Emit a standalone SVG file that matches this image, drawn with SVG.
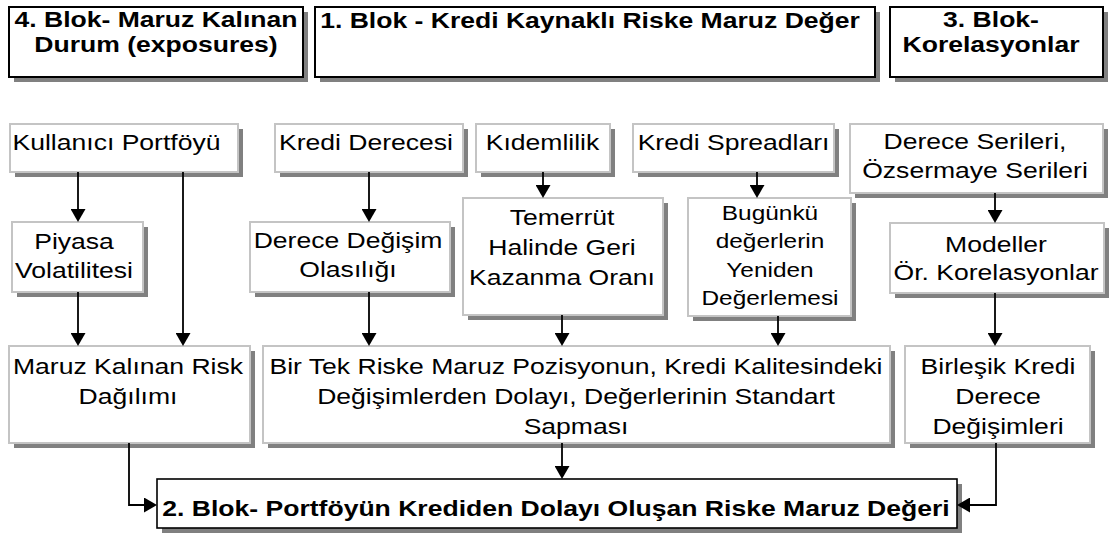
<svg xmlns="http://www.w3.org/2000/svg" width="1109" height="537" viewBox="0 0 1109 537">
  <defs>
    <marker id="arrow" viewBox="0 0 13 15" refX="3" refY="7.5" markerWidth="13" markerHeight="15" markerUnits="userSpaceOnUse" orient="auto">
      <path d="M0,0 L13,7.5 L0,15 z" fill="#000"/>
    </marker>
  </defs>
  <style>
    .sh{fill:#808080}
    .box{fill:#fff;stroke:#c4c4c4;stroke-width:2}
    .hdr{fill:#fff;stroke:#000;stroke-width:2}
    .res{fill:#fff;stroke:#000;stroke-width:1.6}
    .t{font-family:"Liberation Sans",Arial,sans-serif;font-size:22.5px;fill:#000;text-anchor:middle}
    .b{font-weight:bold}
    .s{font-size:20.7px}
    .ln{stroke:#000;stroke-width:1.8;fill:none;marker-end:url(#arrow)}
  </style>
  <rect width="1109" height="537" fill="#fff"/>

  <!-- block headers -->
  <g id="blok4">
    <rect class="sh" x="14" y="12" width="294" height="70"/>
    <rect class="hdr" x="9" y="7" width="294" height="70"/>
    <text class="t b" transform="translate(156 26.5) scale(1.18 1)"><tspan x="0" y="0">4. Blok- Maruz Kalınan</tspan><tspan x="0" y="25.5">Durum (exposures)</tspan></text>
  </g>
  <g id="blok1">
    <rect class="sh" x="320" y="12" width="560" height="70"/>
    <rect class="hdr" x="315" y="7" width="560" height="70"/>
    <text class="t b" transform="translate(590 27.5) scale(1.18 1)">1. Blok - Kredi Kaynaklı Riske Maruz Değer</text>
  </g>
  <g id="blok3">
    <rect class="sh" x="895" y="12" width="213" height="70"/>
    <rect class="hdr" x="890" y="7" width="213" height="70"/>
    <text class="t b" transform="translate(991 26.5) scale(1.18 1)"><tspan x="0" y="0">3. Blok-</tspan><tspan x="0" y="25.5">Korelasyonlar</tspan></text>
  </g>

  <!-- inputs -->
  <g id="kullanici-portfoyu">
    <rect class="sh" x="15" y="129" width="228" height="48"/>
    <rect class="box" x="10" y="124" width="228" height="48"/>
    <text class="t" transform="translate(116.5 150) scale(1.18 1)">Kullanıcı Portföyü</text>
  </g>
  <g id="kredi-derecesi">
    <rect class="sh" x="280" y="129" width="188" height="48"/>
    <rect class="box" x="275" y="124" width="188" height="48"/>
    <text class="t" transform="translate(366 150) scale(1.18 1)">Kredi Derecesi</text>
  </g>
  <g id="kidemlilik">
    <rect class="sh" x="481" y="129" width="134" height="48"/>
    <rect class="box" x="476" y="124" width="134" height="48"/>
    <text class="t" transform="translate(542.5 150) scale(1.18 1)">Kıdemlilik</text>
  </g>
  <g id="kredi-spreadlari">
    <rect class="sh" x="638" y="129" width="201" height="48"/>
    <rect class="box" x="633" y="124" width="201" height="48"/>
    <text class="t" transform="translate(733.5 150) scale(1.18 1)">Kredi Spreadları</text>
  </g>
  <g id="derece-serileri">
    <rect class="sh" x="855" y="129" width="253" height="69"/>
    <rect class="box" x="850" y="124" width="253" height="69"/>
    <text class="t" transform="translate(975 149) scale(1.18 1)"><tspan x="0" y="0">Derece Serileri,</tspan><tspan x="0" y="29">Özsermaye Serileri</tspan></text>
  </g>

  <!-- intermediate steps -->
  <g id="piyasa-volatilitesi">
    <rect class="sh" x="17" y="227" width="131" height="70"/>
    <rect class="box" x="12" y="222" width="131" height="70"/>
    <text class="t" transform="translate(74 249) scale(1.18 1)"><tspan x="0" y="0">Piyasa</tspan><tspan x="0" y="29">Volatilitesi</tspan></text>
  </g>
  <g id="derece-degisim">
    <rect class="sh" x="255" y="227" width="200" height="70"/>
    <rect class="box" x="250" y="222" width="200" height="70"/>
    <text class="t" transform="translate(348 248) scale(1.18 1)"><tspan x="0" y="0">Derece Değişim</tspan><tspan x="0" y="29">Olasılığı</tspan></text>
  </g>
  <g id="temerrut">
    <rect class="sh" x="468" y="203" width="200" height="117"/>
    <rect class="box" x="463" y="198" width="200" height="117"/>
    <text class="t" transform="translate(562 225) scale(1.18 1)"><tspan x="0" y="0">Temerrüt</tspan><tspan x="0" y="30">Halinde Geri</tspan><tspan x="0" y="60">Kazanma Oranı</tspan></text>
  </g>
  <g id="yeniden-degerleme">
    <rect class="sh" x="693" y="203" width="163" height="118"/>
    <rect class="box" x="688" y="198" width="163" height="118"/>
    <text class="t s" transform="translate(770 220) scale(1.18 1)"><tspan x="0" y="0">Bugünkü</tspan><tspan x="0" y="28.5">değerlerin</tspan><tspan x="0" y="57">Yeniden</tspan><tspan x="0" y="85.5">Değerlemesi</tspan></text>
  </g>
  <g id="modeller">
    <rect class="sh" x="895" y="228" width="214" height="70"/>
    <rect class="box" x="890" y="223" width="214" height="70"/>
    <text class="t" transform="translate(996 252) scale(1.18 1)"><tspan x="0" y="0">Modeller</tspan><tspan x="0" y="28">Ör. Korelasyonlar</tspan></text>
  </g>

  <!-- aggregated results -->
  <g id="risk-dagilimi">
    <rect class="sh" x="14" y="351" width="241" height="97"/>
    <rect class="box" x="9" y="346" width="241" height="97"/>
    <text class="t" transform="translate(128 374) scale(1.18 1)"><tspan x="0" y="0">Maruz Kalınan Risk</tspan><tspan x="0" y="30">Dağılımı</tspan></text>
  </g>
  <g id="standart-sapma">
    <rect class="sh" x="268" y="351" width="627" height="97"/>
    <rect class="box" x="263" y="346" width="627" height="97"/>
    <text class="t" transform="translate(576 374) scale(1.18 1)"><tspan x="0" y="0">Bir Tek Riske Maruz Pozisyonun, Kredi Kalitesindeki</tspan><tspan x="0" y="30">Değişimlerden Dolayı, Değerlerinin Standart</tspan><tspan x="0" y="60">Sapması</tspan></text>
  </g>
  <g id="birlesik-kredi">
    <rect class="sh" x="910" y="351" width="185" height="97"/>
    <rect class="box" x="905" y="346" width="185" height="97"/>
    <text class="t" transform="translate(998 374) scale(1.18 1)"><tspan x="0" y="0">Birleşik Kredi</tspan><tspan x="0" y="30">Derece</tspan><tspan x="0" y="60">Değişimleri</tspan></text>
  </g>

  <!-- final output -->
  <g id="blok2">
    <rect class="sh" x="162" y="484" width="800" height="49"/>
    <rect class="res" x="157" y="479" width="800" height="49"/>
    <text class="t b" transform="translate(556 516) scale(1.18 1)">2. Blok- Portföyün Krediden Dolayı Oluşan Riske Maruz Değeri</text>
  </g>

  <!-- connectors -->
  <g id="connectors">
    <path class="ln" d="M78 172 V212"/>
    <path class="ln" d="M183 172 V336"/>
    <path class="ln" d="M78 292 V336"/>
    <path class="ln" d="M369 172 V212"/>
    <path class="ln" d="M369 292 V336"/>
    <path class="ln" d="M543 172 V188"/>
    <path class="ln" d="M757 172 V188"/>
    <path class="ln" d="M562 315 V336"/>
    <path class="ln" d="M778 316 V336"/>
    <path class="ln" d="M995 193 V213"/>
    <path class="ln" d="M995 293 V336"/>
    <path class="ln" d="M562 443 V469"/>
    <path class="ln" d="M129 443 V505 H147"/>
    <path class="ln" d="M996 443 V505 H967"/>
  </g>
</svg>
